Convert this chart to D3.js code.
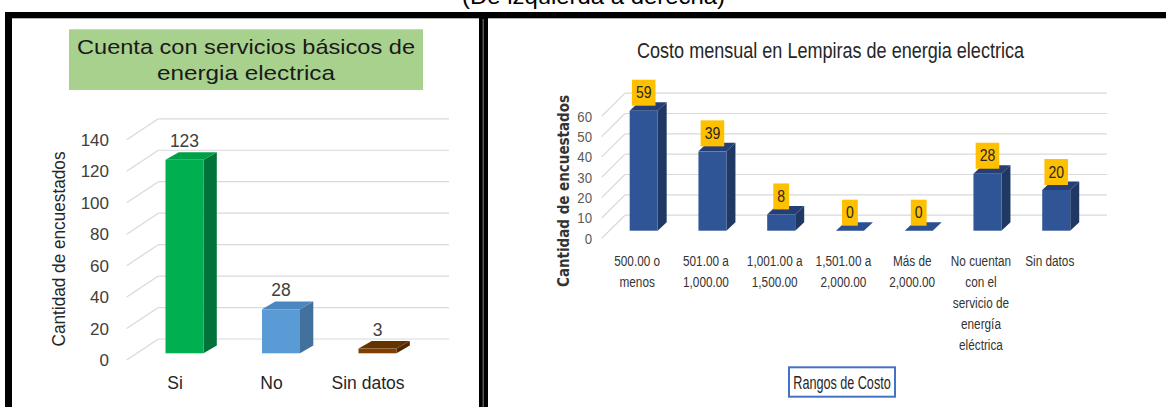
<!DOCTYPE html>
<html><head><meta charset="utf-8">
<script src="https://cdn.jsdelivr.net/npm/d3@7"></script>
<style>body{margin:0;background:#fff;} svg{display:block}</style>
</head><body>
<script>
// ---------- data ----------
const basicCategories = ["Si", "No", "Sin datos"];
const basicValues = [123, 28, 3];
const basicTicks = [0, 20, 40, 60, 80, 100, 120, 140];

const costCategories = ["500.00 o\nmenos", "501.00 a\n1,000.00", "1,001.00 a\n1,500.00", "1,501.00 a\n2,000.00",
  "Más de\n2,000.00", "No cuentan\ncon el\nservicio de\nenergía\neléctrica", "Sin datos"];
const costValues = [59, 39, 8, 0, 0, 28, 20];
const costTicks = [0, 10, 20, 30, 40, 50, 60];

// ---------- setup ----------
const W = 1166, H = 407;
const SANS = "'Liberation Sans', Arial, sans-serif";
const svg = d3.select("body").append("svg").attr("width", W).attr("height", H)
  .style("font-family", SANS);

function fitTo(sel, w) { sel.attr("textLength", w).attr("lengthAdjust", "spacingAndGlyphs"); }
function condense(sel, f) {
  sel.each(function () {
    const len = this.getComputedTextLength();
    d3.select(this).attr("textLength", len * f).attr("lengthAdjust", "spacingAndGlyphs");
  });
}

// ---------- frame ----------
svg.append("text").attr("x", 593.5).attr("y", 4).attr("text-anchor", "middle")
  .style("font-size", "22px").attr("fill", "#000").text("(De izquierda a derecha)").call(fitTo, 263);
svg.append("rect").attr("x", 5).attr("y", 12).attr("width", W - 5).attr("height", 6.3).attr("fill", "#000");
svg.append("rect").attr("x", 5).attr("y", 12).attr("width", 7).attr("height", H - 12).attr("fill", "#000");
svg.append("rect").attr("x", 479).attr("y", 12).attr("width", 9).attr("height", H - 12).attr("fill", "#000");
svg.append("rect").attr("x", 482.5).attr("y", 19).attr("width", 1.5).attr("height", H - 19).attr("fill", "#555");

// ---------- left chart ----------
const gL = svg.append("g");
gL.append("rect").attr("x", 69).attr("y", 29.3).attr("width", 354).attr("height", 60.7).attr("fill", "#a9d18e");
gL.append("text").attr("x", 246).attr("y", 54).attr("text-anchor", "middle").style("font-size", "21px")
  .attr("fill", "#1a1a1a").text("Cuenta con servicios básicos de").call(fitTo, 338);
gL.append("text").attr("x", 246).attr("y", 80).attr("text-anchor", "middle").style("font-size", "21px")
  .attr("fill", "#1a1a1a").text("energia electrica").call(fitTo, 178);

const yL = d3.scaleLinear().domain([0, 140]).range([353.3, 133.1]);
const xL = d3.scalePoint().domain(basicCategories).range([136.25, 425.75]).padding(0.5);
const backL = 14.3, frontL = 6.7;

gL.selectAll("line.grid").data(basicTicks).join("line")
  .attr("x1", 158.3).attr("x2", 449).attr("y1", d => yL(d) - backL).attr("y2", d => yL(d) - backL)
  .attr("stroke", "#d9d9d9").attr("stroke-width", 1.2);
gL.selectAll("line.diag").data(basicTicks).join("line")
  .attr("x1", 126.7).attr("x2", 158.3).attr("y1", d => yL(d) + frontL).attr("y2", d => yL(d) - backL)
  .attr("stroke", "#d9d9d9").attr("stroke-width", 1.2);
gL.selectAll("text.tick").data(basicTicks).join("text")
  .attr("x", 109).attr("y", d => yL(d) + frontL).attr("dy", "0.36em").attr("text-anchor", "end")
  .style("font-size", "17px").attr("fill", "#404040").text(d => d);

const basicColors = [
  { front: "#00b050", side: "#00733a", top: "#00a048" },
  { front: "#5b9bd5", side: "#41719c", top: "#4a86bf" },
  { front: "#7f3f00", side: "#4f2700", top: "#663300" }
];
const bwL = 38, dxL = 13.3, dyL = -7.7;
basicValues.forEach((v, i) => {
  const c = basicCategories[i], col = basicColors[i];
  const x = xL(c) - bwL / 2, yt = yL(v), yb = yL(0);
  gL.append("polygon").attr("fill", col.side)
    .attr("points", [[x + bwL, yt], [x + bwL + dxL, yt + dyL], [x + bwL + dxL, yb + dyL], [x + bwL, yb]].join(" "));
  gL.append("polygon").attr("fill", col.top)
    .attr("points", [[x, yt], [x + dxL, yt + dyL], [x + bwL + dxL, yt + dyL], [x + bwL, yt]].join(" "));
  gL.append("rect").attr("x", x).attr("y", yt).attr("width", bwL).attr("height", yb - yt).attr("fill", col.front);
  gL.append("text").attr("x", xL(c)).attr("y", yt - 13).attr("text-anchor", "middle")
    .style("font-size", "17.5px").attr("fill", "#404040").text(v);
  gL.append("text").attr("x", xL(c) - 9.5).attr("y", 389).attr("text-anchor", "middle")
    .style("font-size", "17.5px").attr("fill", "#262626").text(c);
});
gL.append("text").attr("transform", "translate(65,249) rotate(-90)").attr("text-anchor", "middle")
  .style("font-size", "17.5px").attr("fill", "#262626").text("Cantidad de encuestados").call(fitTo, 195);

// ---------- right chart ----------
const gR = svg.append("g");
gR.append("text").attr("x", 830.5).attr("y", 58.3).attr("text-anchor", "middle").style("font-size", "22px")
  .attr("fill", "#262626").text("Costo mensual en Lempiras de energia electrica").call(fitTo, 387);

const yR = d3.scaleLinear().domain([0, 60]).range([230.7, 108.66]);
const xR = d3.scalePoint().domain(costCategories).range([609.3, 1090.6]).padding(0.5);
const backR = 15.5, frontR = 7.6;

gR.selectAll("line.grid").data(costTicks).join("line")
  .attr("x1", 625).attr("x2", 1107).attr("y1", d => yR(d) - backR).attr("y2", d => yR(d) - backR)
  .attr("stroke", "#d9d9d9").attr("stroke-width", 1.2);
gR.selectAll("line.diag").data(costTicks).join("line")
  .attr("x1", 601.7).attr("x2", 625).attr("y1", d => yR(d) + frontR).attr("y2", d => yR(d) - backR)
  .attr("stroke", "#d9d9d9").attr("stroke-width", 1.2);
gR.selectAll("text.tick").data(costTicks).join("text")
  .attr("x", 592).attr("y", d => yR(d) + frontR).attr("dy", "0.36em").attr("text-anchor", "end")
  .style("font-size", "15px").attr("fill", "#595959").text(d => d).call(condense, 0.88);

const bwR = 28, dxR = 9, dyR = -8.5;
costValues.forEach((v, i) => {
  const c = costCategories[i];
  const x = xR(c) - bwR / 2, yt = yR(v), yb = yR(0);
  gR.append("polygon").attr("fill", "#1f3864")
    .attr("points", [[x + bwR, yt], [x + bwR + dxR, yt + dyR], [x + bwR + dxR, yb + dyR], [x + bwR, yb]].join(" "));
  gR.append("polygon").attr("fill", v === 0 ? "#2b4f8f" : "#253f75")
    .attr("points", [[x, yt], [x + dxR, yt + dyR], [x + bwR + dxR, yt + dyR], [x + bwR, yt]].join(" "));
  gR.append("rect").attr("x", x).attr("y", yt).attr("width", bwR).attr("height", yb - yt).attr("fill", "#2f5597");
  // data label box
  const lg = gR.append("g");
  const t = lg.append("text").attr("x", xR(c)).attr("y", yt - 12.5).attr("text-anchor", "middle")
    .style("font-size", "16.5px").attr("fill", "#262626").text(v).call(condense, 0.85);
  const tw = +t.attr("textLength");
  lg.insert("rect", "text").attr("x", xR(c) - (tw + 8) / 2).attr("y", yt - 31).attr("width", tw + 8)
    .attr("height", 26).attr("fill", "#ffc000");
  // category label
  const lines = c.split("\n");
  const lt = gR.append("text").attr("text-anchor", "middle").style("font-size", "15.5px").attr("fill", "#333");
  lines.forEach((ln, j) => {
    lt.append("tspan").attr("x", xR(c) - 6.5).attr("y", 266 + j * 21).text(ln);
  });
  lt.selectAll("tspan").call(condense, 0.76);
});

gR.append("text").attr("transform", "translate(569,191) rotate(-90)").attr("text-anchor", "middle")
  .style("font-family", "'DejaVu Sans', sans-serif").style("font-size", "15px").style("font-weight", "bold")
  .attr("fill", "#333").text("Cantidad de encuestados").call(fitTo, 192);

gR.append("rect").attr("x", 789).attr("y", 367.3).attr("width", 106).attr("height", 29.4)
  .attr("fill", "#fff").attr("stroke", "#4472c4").attr("stroke-width", 2);
gR.append("text").attr("x", 842).attr("y", 388.5).attr("text-anchor", "middle").style("font-size", "17.5px")
  .attr("fill", "#262626").text("Rangos de Costo").call(fitTo, 97.4);
</script>
</body></html>
